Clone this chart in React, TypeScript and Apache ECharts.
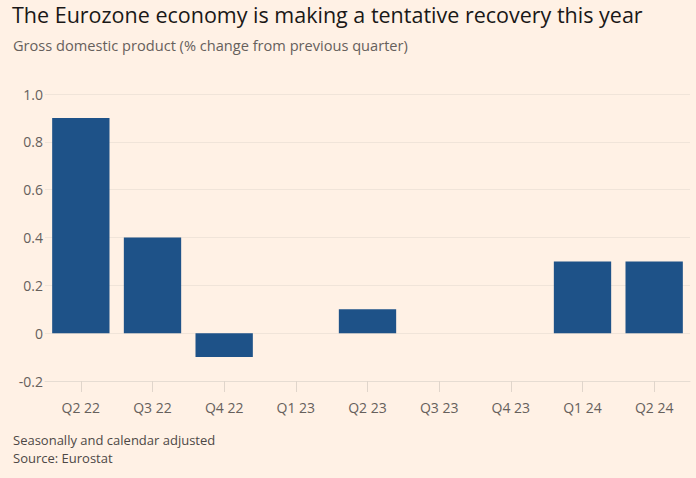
import React, { useEffect, useRef } from "react";
import * as echarts from "echarts";

const categories = ["Q2 22", "Q3 22", "Q4 22", "Q1 23", "Q2 23", "Q3 23", "Q4 23", "Q1 24", "Q2 24"];
const gdpChange = [0.9, 0.4, -0.1, 0, 0.1, 0, 0, 0.3, 0.3];
const yTicks = [-0.2, 0, 0.2, 0.4, 0.6, 0.8, 1.0];

const titleText = "The Eurozone economy is making a tentative recovery this year";
const subtitleText = "Gross domestic product (% change from previous quarter)";
const noteText = "Seasonally and calendar adjusted";
const sourceText = "Source: Eurostat";

const FONT = "'Open Sans', 'Noto Sans', sans-serif";

export default function App() {
  const ref = useRef<HTMLDivElement>(null);
  useEffect(() => {
    if (!ref.current) return;
    const chart = echarts.init(ref.current, undefined, { renderer: "svg" });
    chart.setOption({
      animation: false,
      backgroundColor: "#fff1e5",
      textStyle: { fontFamily: FONT },
      graphic: [
        { type: "text", left: 12, top: 3, style: { text: titleText, font: `21.5px ${FONT}`, fill: "#1a1817" } },
        { type: "text", left: 13, top: 37, style: { text: subtitleText, font: `14.6px ${FONT}`, fill: "#66605c" } },
        { type: "text", left: 13, top: 433, style: { text: noteText, font: `13px ${FONT}`, fill: "#4d4845" } },
        { type: "text", left: 13, top: 451, style: { text: sourceText, font: `13px ${FONT}`, fill: "#4d4845" } },
      ],
      grid: { left: 45, right: 6, top: 94, bottom: 478 - 381, containLabel: false },
      xAxis: {
        type: "category",
        data: categories,
        axisLine: { show: true, onZero: false, lineStyle: { color: "#e6dcd2", width: 1 } },
        axisTick: { show: true, alignWithLabel: true, length: 11, lineStyle: { color: "#e0d5cb" } },
        axisLabel: { color: "#66605c", fontSize: 14, margin: 19, fontFamily: FONT },
      },
      yAxis: {
        type: "value",
        min: yTicks[0],
        max: yTicks[yTicks.length - 1],
        interval: 0.2,
        axisLine: { show: false },
        axisTick: { show: false },
        axisLabel: {
          color: "#66605c",
          fontSize: 14,
          margin: 2,
          fontFamily: FONT,
          formatter: (v: number) => {
            const r = Math.round(v * 10) / 10;
            if (r === 0) return "0";
            return r.toFixed(1);
          },
        },
        splitLine: { show: true, lineStyle: { color: "#f0e4d9", width: 1 } },
      },
      series: [
        {
          type: "bar",
          data: gdpChange,
          barWidth: "80%",
          itemStyle: { color: "#1e5288" },
        },
      ],
    });
    return () => chart.dispose();
  }, []);
  return <div ref={ref} style={{ width: 696, height: 478, position: "absolute", left: 0, top: 0 }} />;
}
